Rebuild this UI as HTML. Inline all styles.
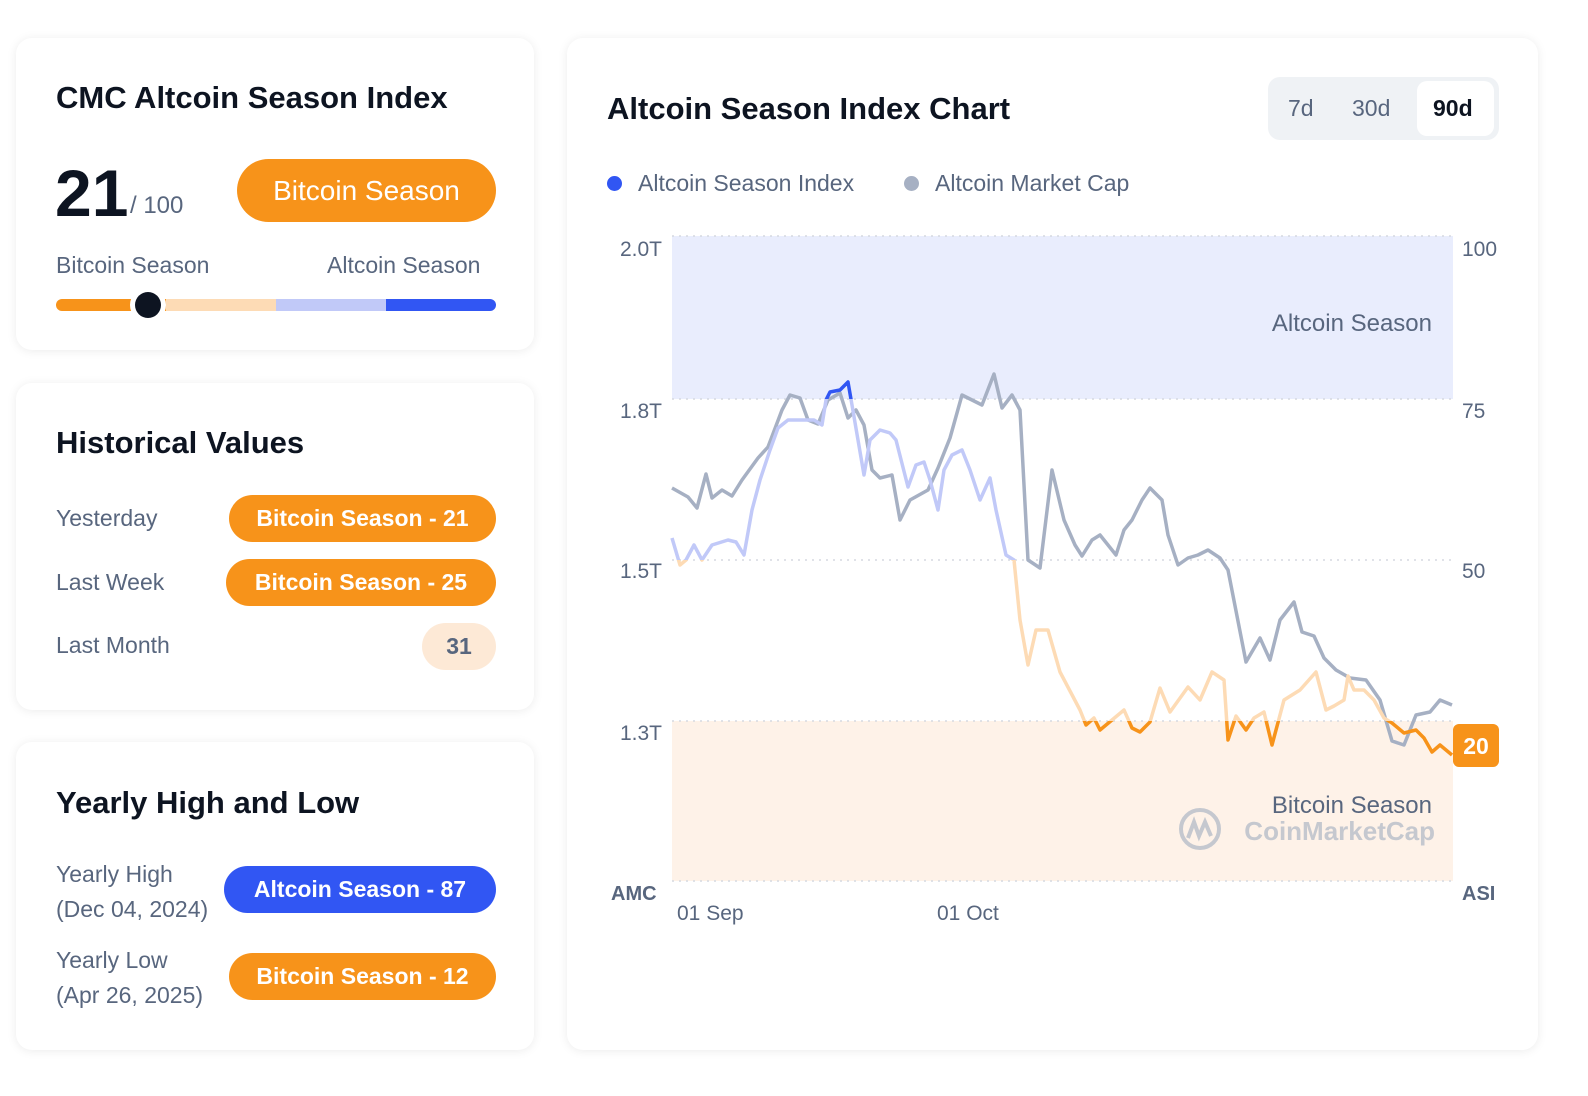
<!DOCTYPE html>
<html><head><meta charset="utf-8"><style>
*{margin:0;padding:0;box-sizing:border-box}
body{width:1588px;height:1096px;background:#fff;font-family:"Liberation Sans",sans-serif;position:relative;overflow:hidden;color:#0d1421}
.card{position:absolute;background:#fff;border-radius:16px;box-shadow:0 1px 10px rgba(0,0,0,0.08)}
.t{position:absolute;white-space:nowrap}
.h{font-weight:bold;font-size:31px;color:#0d1421}
.g{color:#58667e;font-size:23px}
.pill{position:absolute;border-radius:24px;color:#fff;font-size:23px;font-weight:bold;display:flex;align-items:center;justify-content:center;background:#f7931a}
</style></head><body>
<div class="card" style="left:16px;top:38px;width:518px;height:312px"></div>
<div class="card" style="left:16px;top:383px;width:518px;height:327px"></div>
<div class="card" style="left:16px;top:742px;width:518px;height:308px"></div>
<div class="card" style="left:567px;top:38px;width:971px;height:1012px"></div>

<div class="t h" style="left:56px;top:80px">CMC Altcoin Season Index</div>
<div class="t" style="left:55px;top:155px;font-size:66px;font-weight:bold">21</div>
<div class="t g" style="left:130px;top:192px;font-size:24px">/ 100</div>
<div class="pill" style="left:237px;top:159px;width:259px;height:63px;border-radius:32px;font-weight:normal;font-size:28px">Bitcoin Season</div>
<div class="t g" style="left:56px;top:252px">Bitcoin Season</div>
<div class="t g" style="left:327px;top:252px">Altcoin Season</div>
<div style="position:absolute;left:56px;top:299px;width:440px;height:12px;border-radius:6px;overflow:hidden;display:flex">
<div style="width:110px;background:#f7931a"></div><div style="width:110px;background:#fddbb5"></div><div style="width:110px;background:#c1c9f8"></div><div style="width:110px;background:#3156f3"></div></div>
<div style="position:absolute;left:130px;top:287px;width:36px;height:36px;border-radius:50%;background:#fff"></div>
<div style="position:absolute;left:135px;top:292px;width:26px;height:26px;border-radius:50%;background:#0d1421"></div>

<div class="t h" style="left:56px;top:425px">Historical Values</div>
<div class="t g" style="left:56px;top:505px">Yesterday</div>
<div class="pill" style="left:229px;top:495px;width:267px;height:47px">Bitcoin Season - 21</div>
<div class="t g" style="left:56px;top:569px">Last Week</div>
<div class="pill" style="left:226px;top:559px;width:270px;height:47px">Bitcoin Season - 25</div>
<div class="t g" style="left:56px;top:632px">Last Month</div>
<div class="pill" style="left:422px;top:623px;width:74px;height:47px;background:#fde9d6;color:#58667e">31</div>

<div class="t h" style="left:56px;top:785px">Yearly High and Low</div>
<div class="t g" style="left:56px;top:857px;line-height:35px">Yearly High<br>(Dec 04, 2024)</div>
<div class="pill" style="left:224px;top:866px;width:272px;height:47px;background:#3156f3">Altcoin Season - 87</div>
<div class="t g" style="left:56px;top:943px;line-height:35px">Yearly Low<br>(Apr 26, 2025)</div>
<div class="pill" style="left:229px;top:953px;width:267px;height:47px">Bitcoin Season - 12</div>

<div class="t h" style="left:607px;top:91px">Altcoin Season Index Chart</div>
<div style="position:absolute;left:1268px;top:77px;width:231px;height:63px;background:#eff2f5;border-radius:12px"></div>
<div style="position:absolute;left:1417px;top:81px;width:77px;height:55px;background:#fff;border-radius:10px"></div>
<div class="t g" style="left:1288px;top:95px">7d</div>
<div class="t g" style="left:1352px;top:95px">30d</div>
<div class="t" style="left:1433px;top:95px;font-size:23px;font-weight:bold">90d</div>
<div style="position:absolute;left:607px;top:176px;width:15px;height:15px;border-radius:50%;background:#3156f3"></div>
<div class="t g" style="left:638px;top:170px">Altcoin Season Index</div>
<div style="position:absolute;left:904px;top:176px;width:15px;height:15px;border-radius:50%;background:#a6b0c3"></div>
<div class="t g" style="left:935px;top:170px">Altcoin Market Cap</div>

<svg style="position:absolute;left:0;top:0" width="1588" height="1096">
<rect x="672" y="236" width="781" height="163" fill="#e9edfd"/>
<rect x="672" y="721" width="781" height="160" fill="#fef2e8"/>
<g stroke="#d5d9e0" stroke-dasharray="2 5" stroke-width="1.5">
<line x1="672" y1="236" x2="1453" y2="236"/><line x1="672" y1="399" x2="1453" y2="399"/><line x1="672" y1="560" x2="1453" y2="560"/><line x1="672" y1="721" x2="1453" y2="721"/><line x1="672" y1="881" x2="1453" y2="881"/></g>
<g font-size="21" fill="#58667e" font-family="Liberation Sans">
<text x="662" y="256" text-anchor="end">2.0T</text><text x="662" y="418" text-anchor="end">1.8T</text><text x="662" y="578" text-anchor="end">1.5T</text><text x="662" y="740" text-anchor="end">1.3T</text>
<text x="1462" y="256">100</text><text x="1462" y="418">75</text><text x="1462" y="578">50</text>
<text x="677" y="920">01 Sep</text><text x="937" y="920">01 Oct</text>
<text x="1432" y="331" text-anchor="end" font-size="24">Altcoin Season</text>
<text x="1432" y="813" text-anchor="end" font-size="24">Bitcoin Season</text>
<text x="1435" y="840" text-anchor="end" font-size="26" font-weight="bold" fill="#c5c8cf">CoinMarketCap</text>
<text x="611" y="900" font-weight="bold" font-size="20">AMC</text><text x="1462" y="900" font-weight="bold" font-size="20">ASI</text>
</g>
<circle cx="1200" cy="829" r="19" fill="none" stroke="#c5c8cf" stroke-width="4"/>
<path d="M1188 838 L1194 822 L1199 836 L1205 822 L1211 836" fill="none" stroke="#c5c8cf" stroke-width="4"/>
<defs>
<clipPath id="c1"><rect x="600" y="0" width="900" height="399"/></clipPath>
<clipPath id="c2"><rect x="600" y="399" width="900" height="161"/></clipPath>
<clipPath id="c3"><rect x="600" y="560" width="900" height="161"/></clipPath>
<clipPath id="c4"><rect x="600" y="721" width="900" height="300"/></clipPath>
<polyline id="ix" fill="none" stroke-width="3.5" stroke-linejoin="round" points="672,538 680,565 686,560 694,545 702,560 712,545 728,540 736,542 744,555 752,510 760,480 770,450 778,428 788,420 814,420 822,425 826,400 830,392 840,390 848,382 852,405 858,440 864,475 870,440 880,430 890,433 896,440 908,487 916,465 924,462 930,480 938,510 944,470 952,455 962,450 970,470 980,500 990,478 996,510 1006,555 1014,560 1020,620 1028,665 1036,630 1048,630 1060,672 1080,710 1086,725 1094,718 1100,730 1112,720 1124,710 1132,728 1140,732 1150,722 1160,688 1170,712 1188,687 1200,700 1212,672 1224,680 1228,740 1236,716 1246,730 1254,718 1264,712 1272,745 1284,700 1300,690 1316,672 1326,710 1334,706 1344,700 1348,676 1354,690 1364,690 1374,700 1384,718 1392,723 1404,733 1416,730 1424,738 1432,752 1440,745 1452,755"/>
</defs>
<polyline fill="none" stroke="#a6b0c3" stroke-width="3.5" stroke-linejoin="round" points="672,488 688,497 697,508 706,474 712,498 722,490 732,496 742,480 758,458 768,447 782,410 790,395 800,398 808,420 818,424 828,400 840,393 848,418 856,410 864,425 872,470 880,478 892,475 900,520 910,500 928,490 938,468 950,438 962,395 972,400 982,405 994,374 1002,408 1012,395 1020,410 1028,560 1040,568 1052,470 1064,520 1075,545 1082,556 1092,540 1100,535 1108,545 1116,555 1124,530 1132,520 1142,500 1150,488 1162,500 1168,535 1178,565 1188,558 1198,555 1208,550 1220,558 1228,570 1246,662 1260,638 1270,660 1280,620 1294,602 1302,632 1314,636 1324,658 1336,670 1350,678 1366,680 1380,700 1392,741 1404,745 1416,715 1430,712 1440,700 1452,705"/>
<use href="#ix" stroke="#3156f3" clip-path="url(#c1)"/>
<use href="#ix" stroke="#c1c9f8" clip-path="url(#c2)"/>
<use href="#ix" stroke="#fddbb5" clip-path="url(#c3)"/>
<use href="#ix" stroke="#f7931a" clip-path="url(#c4)"/>
<rect x="1453" y="724" width="46" height="43" rx="6" fill="#f7931a"/>
<text x="1476" y="754" text-anchor="middle" font-size="23" font-weight="bold" fill="#fff" font-family="Liberation Sans">20</text>
</svg>
</body></html>
